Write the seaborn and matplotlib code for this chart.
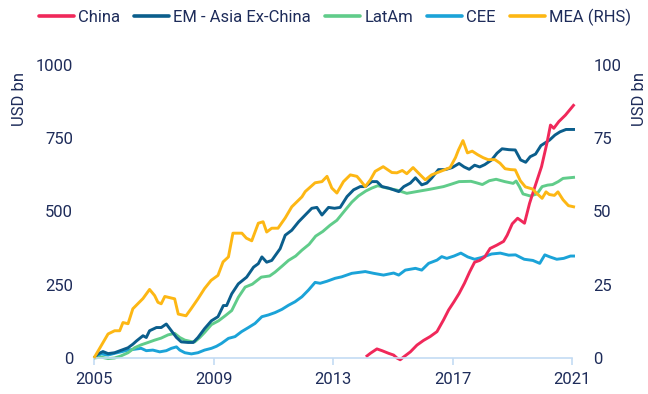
import numpy as np
import pandas as pd
import matplotlib
matplotlib.use("Agg")
import matplotlib.pyplot as plt
import seaborn as sns
from matplotlib.lines import Line2D

# ---- data (USD bn; MEA on the right-hand scale) ----
china_t = [2014.10, 2014.25, 2014.47, 2014.64, 2014.86, 2015.03, 2015.14, 2015.25, 2015.37, 2015.59,
           2015.81, 2016.03, 2016.25, 2016.48, 2016.70, 2016.87, 2017.05, 2017.22, 2017.40, 2017.57,
           2017.74, 2017.91, 2018.08, 2018.26, 2018.48, 2018.71, 2018.83, 2019.00, 2019.18, 2019.41,
           2019.58, 2019.76, 2019.98, 2020.16, 2020.28, 2020.39, 2020.56, 2020.78, 2021.08]
china_v = [4, 16, 31, 25, 16, 10, 0, -6, 4, 21,
           44, 60, 73, 90, 130, 164, 192, 220, 255, 293,
           327, 333, 345, 374, 385, 398, 419, 458, 477, 460,
           528, 585, 653, 733, 795, 784, 807, 829, 866]

asia_t = [2005.00, 2005.13, 2005.30, 2005.47, 2005.69, 2005.90, 2006.14, 2006.30, 2006.42, 2006.64,
          2006.75, 2006.86, 2007.09, 2007.25, 2007.42, 2007.59, 2007.76, 2007.92, 2008.15, 2008.32,
          2008.48, 2008.70, 2008.93, 2009.15, 2009.33, 2009.44, 2009.61, 2009.83, 2010.11, 2010.34,
          2010.50, 2010.62, 2010.78, 2010.95, 2011.23, 2011.40, 2011.62, 2011.85, 2012.07, 2012.29,
          2012.46, 2012.63, 2012.85, 2013.05, 2013.24, 2013.47, 2013.69, 2013.91, 2014.08, 2014.30,
          2014.47, 2014.64, 2014.86, 2015.03, 2015.20, 2015.37, 2015.59, 2015.76, 2015.97, 2016.14,
          2016.30, 2016.53, 2016.76, 2016.99, 2017.22, 2017.39, 2017.56, 2017.74, 2017.91, 2018.08,
          2018.31, 2018.49, 2018.66, 2018.89, 2019.10, 2019.28, 2019.45, 2019.60, 2019.78, 2019.96,
          2020.25, 2020.43, 2020.60, 2020.80, 2021.10]
asia_v = [0, 14, 22, 15, 18, 26, 35, 47, 58, 76,
          70, 93, 104, 104, 116, 93, 70, 55, 53, 53,
          70, 100, 127, 141, 179, 179, 219, 253, 276, 310,
          322, 345, 327, 333, 373, 419, 436, 465, 488, 511,
          514, 488, 514, 511, 514, 551, 574, 585, 585, 602,
          602, 585, 580, 574, 568, 585, 597, 615, 591, 597,
          614, 643, 643, 650, 664, 652, 644, 658, 652, 660,
          676, 699, 714, 711, 710, 676, 668, 687, 696, 725,
          744, 761, 772, 780, 780]

latam_t = [2005.00, 2005.24, 2005.47, 2005.69, 2005.90, 2006.14, 2006.36, 2006.58, 2006.81, 2007.03,
           2007.25, 2007.48, 2007.70, 2007.87, 2008.04, 2008.26, 2008.37, 2008.54, 2008.70, 2008.93,
           2009.17, 2009.39, 2009.61, 2009.83, 2010.06, 2010.30, 2010.60, 2010.88, 2011.06, 2011.30,
           2011.51, 2011.75, 2011.96, 2012.20, 2012.42, 2012.66, 2012.90, 2013.13, 2013.41, 2013.63,
           2013.85, 2014.10, 2014.30, 2014.50, 2014.80, 2015.14, 2015.47, 2015.80, 2016.25, 2016.70,
           2016.95, 2017.22, 2017.62, 2017.80, 2018.00, 2018.23, 2018.46, 2018.75, 2019.03, 2019.13,
           2019.24, 2019.36, 2019.60, 2019.83, 2020.00, 2020.18, 2020.35, 2020.54, 2020.70, 2021.10]
latam_v = [0, 3, -2, 0, 7, 18, 35, 45, 53, 61,
           68, 79, 84, 70, 61, 56, 55, 70, 87, 114,
           127, 144, 162, 207, 242, 252, 276, 280, 293, 314,
           333, 348, 368, 388, 416, 432, 453, 470, 505, 532,
           553, 570, 580, 588, 580, 573, 562, 568, 576, 585,
           593, 602, 603, 598, 592, 605, 610, 602, 596, 604,
           585, 560, 553, 560, 585, 590, 592, 602, 613, 617]

cee_t = [2005.00, 2005.24, 2005.47, 2005.69, 2005.90, 2006.14, 2006.36, 2006.58, 2006.75, 2006.97,
         2007.20, 2007.42, 2007.59, 2007.76, 2007.87, 2008.04, 2008.26, 2008.48, 2008.70, 2008.93,
         2009.10, 2009.27, 2009.50, 2009.72, 2009.94, 2010.17, 2010.39, 2010.62, 2010.84, 2011.06,
         2011.29, 2011.51, 2011.73, 2011.96, 2012.18, 2012.40, 2012.57, 2012.80, 2013.07, 2013.29,
         2013.63, 2014.08, 2014.36, 2014.69, 2015.03, 2015.20, 2015.42, 2015.76, 2015.97, 2016.20,
         2016.48, 2016.64, 2016.81, 2017.05, 2017.28, 2017.51, 2017.74, 2017.97, 2018.31, 2018.60,
         2018.88, 2019.11, 2019.40, 2019.69, 2019.92, 2020.09, 2020.26, 2020.49, 2020.72, 2020.95,
         2021.10]
cee_v = [2, 14, 10, 16, 21, 27, 30, 33, 25, 27,
         21, 25, 33, 38, 27, 18, 14, 18, 27, 33,
         40, 50, 67, 73, 90, 104, 118, 141, 147, 155,
         166, 180, 192, 209, 232, 258, 255, 262, 272, 277,
         289, 295, 289, 283, 290, 283, 300, 306, 300, 323,
         334, 346, 340, 348, 358, 345, 337, 343, 355, 358,
         351, 352, 337, 333, 323, 352, 345, 337, 340, 348,
         348]

mea_t = [2005.00, 2005.47, 2005.69, 2005.86, 2005.97, 2006.14, 2006.30, 2006.64, 2006.86, 2007.03,
         2007.14, 2007.25, 2007.37, 2007.70, 2007.82, 2008.08, 2008.25, 2008.48, 2008.70, 2008.92,
         2009.15, 2009.32, 2009.50, 2009.65, 2009.95, 2010.10, 2010.28, 2010.50, 2010.66, 2010.78,
         2010.95, 2011.16, 2011.40, 2011.62, 2011.96, 2012.07, 2012.40, 2012.63, 2012.80, 2012.96,
         2013.13, 2013.35, 2013.58, 2013.80, 2013.90, 2014.08, 2014.25, 2014.41, 2014.68, 2014.97,
         2015.14, 2015.32, 2015.47, 2015.68, 2015.92, 2016.09, 2016.30, 2016.60, 2016.92, 2017.10,
         2017.20, 2017.35, 2017.50, 2017.66, 2017.84, 2018.02, 2018.19, 2018.42, 2018.59, 2018.76,
         2018.94, 2019.10, 2019.27, 2019.44, 2019.67, 2019.84, 2020.00, 2020.13, 2020.24, 2020.41,
         2020.53, 2020.70, 2020.88, 2021.10]
mea_v = [0, 8.2, 9.3, 9.3, 12.1, 11.7, 16.8, 20.3, 23.4, 21.3,
         19.0, 18.5, 21.0, 20.2, 15.0, 14.4, 16.8, 20.2, 23.7, 26.5,
         28.2, 32.8, 34.5, 42.6, 42.6, 40.9, 40.0, 46.0, 46.5, 43.0,
         44.3, 44.3, 47.8, 51.6, 55.0, 56.8, 59.8, 60.2, 62.0, 58.0,
         56.3, 60.2, 62.5, 62.0, 60.8, 58.5, 60.8, 63.7, 65.3, 63.3,
         63.2, 64.0, 62.9, 65.0, 62.5, 60.8, 62.5, 63.7, 65.0, 68.4,
         71.0, 74.2, 70.0, 70.6, 69.4, 68.4, 67.7, 67.7, 66.5, 64.6,
         64.3, 64.2, 60.5, 58.4, 57.7, 56.0, 54.5, 56.7, 55.8, 55.5,
         56.7, 54.0, 52.0, 51.5]

series_names = ["China", "EM - Asia Ex-China", "LatAm", "CEE", "MEA (RHS)"]
year_ticks = [2005, 2009, 2013, 2017, 2021]
left_ticks = [0, 250, 500, 750, 1000]
right_ticks = [0, 25, 50, 75, 100]

colors = {
    "China": "#F0285A",
    "EM - Asia Ex-China": "#0B5E8C",
    "LatAm": "#60CC8A",
    "CEE": "#1BA3D8",
    "MEA (RHS)": "#FDB714",
}
text_color = "#1E2C5A"
axis_color = "#C3DBF3"

left_df = pd.concat([
    pd.DataFrame({"year": t, "value": v, "series": name})
    for name, t, v in [
        ("China", china_t, china_v),
        ("EM - Asia Ex-China", asia_t, asia_v),
        ("LatAm", latam_t, latam_v),
        ("CEE", cee_t, cee_v),
    ]
], ignore_index=True)
right_df = pd.DataFrame({"year": mea_t, "value": mea_v, "series": "MEA (RHS)"})

# ---- style ----
sns.set_theme(style="white")
plt.rcParams["font.family"] = ["Roboto", "DejaVu Sans"]
plt.rcParams["text.color"] = text_color
fs = 12

fig = plt.figure(figsize=(6.48, 3.94), dpi=100)
x0, x1 = 2005.0, 2021.15
px_per_year = (572 - 94) / 16
left_px = 94
right_px = 94 + (x1 - x0) * px_per_year
ax = fig.add_axes([left_px / 648, 1 - 358 / 394, (right_px - left_px) / 648, (358 - 65) / 394])
ax2 = ax.twinx()

lw = 2.1
order = ["CEE", "LatAm", "EM - Asia Ex-China", "China"]
for name in order:
    sub = left_df[left_df["series"] == name]
    sns.lineplot(data=sub, x="year", y="value", color=colors[name], linewidth=lw,
                 ax=ax, legend=False, sort=False, estimator=None)
sns.lineplot(data=right_df, x="year", y="value", color=colors["MEA (RHS)"], linewidth=lw,
             ax=ax2, legend=False, sort=False, estimator=None)
for line in ax.get_lines() + ax2.get_lines():
    line.set_clip_on(False)
    line.set_solid_capstyle("butt")

ax.set_xlim(x0, x1)
ax.set_ylim(0, 1000)
ax2.set_ylim(0, 100)
ax.set_xticks(year_ticks)
ax.set_xticklabels([str(y) for y in year_ticks])
ax.set_yticks(left_ticks)
ax2.set_yticks(right_ticks)
ax.set_xlabel("")
ax.set_ylabel("")
ax2.set_ylabel("")

for a in (ax, ax2):
    for s in a.spines.values():
        s.set_visible(False)
    a.grid(False)
ax.spines["bottom"].set_visible(True)
ax.spines["bottom"].set_color(axis_color)
ax.spines["bottom"].set_linewidth(1.2)
ax.spines["bottom"].set_bounds(2005, 2021)

ax.tick_params(axis="x", direction="out", length=5, width=1.2, color=axis_color,
               labelsize=fs, labelcolor=text_color, pad=5, bottom=True)
ax.tick_params(axis="y", length=0, labelsize=fs, labelcolor=text_color, pad=15)
ax2.tick_params(axis="y", length=0, labelsize=fs, labelcolor=text_color, pad=12)
for lab in ax2.get_yticklabels():
    lab.set_ha("left")

ax.text(-0.155, 0.975, "USD bn", transform=ax.transAxes, rotation=90,
        ha="center", va="top", fontsize=fs, color=text_color)
ax.text((640 - left_px) / (right_px - left_px), 0.975, "USD bn", transform=ax.transAxes,
        rotation=90, ha="center", va="top", fontsize=fs, color=text_color)

handles = [Line2D([0], [0], color=colors[n], linewidth=2.6) for n in series_names]
fig.legend(handles, series_names, loc="center", bbox_to_anchor=(335 / 648, 1 - 17 / 394),
           ncol=5, frameon=False, fontsize=fs, handlelength=2.1, handletextpad=0.25,
           columnspacing=0.85, borderaxespad=0, labelcolor=text_color)

fig.savefig("out.png", dpi=100)
